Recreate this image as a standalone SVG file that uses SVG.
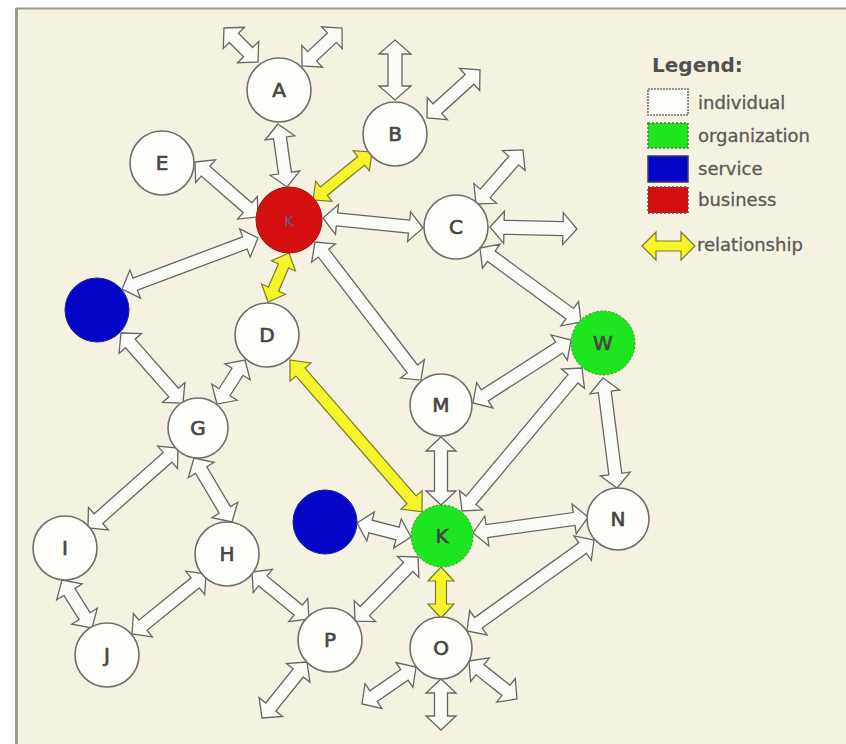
<svg xmlns="http://www.w3.org/2000/svg" width="846" height="744" viewBox="0 0 846 744">
<style>
.bg{fill:#f5f2e1}
.frame{stroke:#9a9a94;fill:none}
.w{fill:#fafaf6;stroke:#666;stroke-width:1.3;stroke-linejoin:miter}
.y{fill:#f4f42a;stroke:#7a7a30;stroke-width:1.2}
.ind{fill:#fdfdf9;stroke:#6e6e6e;stroke-width:1.6}
.org{fill:#1ee61e;stroke:#3a8a2a;stroke-width:1;stroke-dasharray:2 2}
.svc{fill:#0505c8;stroke:#2020a0;stroke-width:1}
.bus{fill:#d40f0f;stroke:#a01010;stroke-width:1}
.lbl{font-family:"DejaVu Sans",sans-serif;font-size:20px;fill:#474747;stroke:#474747;stroke-width:0.7;text-anchor:middle}
.leg{font-family:"DejaVu Sans",sans-serif;font-size:18px;fill:#5a5a5a;stroke:#5a5a5a;stroke-width:0.3}
.legh{font-family:"DejaVu Sans",sans-serif;font-size:20px;font-weight:bold;fill:#505050}
</style>
<rect class="bg" x="16" y="8" width="830" height="736"/>
<line class="frame" x1="16" y1="8.5" x2="846" y2="8.5" stroke-width="2"/>
<line class="frame" x1="16.5" y1="8" x2="16.5" y2="744" stroke-width="3"/>

<g id="connectors">
<path class="w" transform="translate(258 62) rotate(-135)" d="M0,0 L14,-15 L14,-6.5 L34.1,-6.5 L34.1,-15 L48.1,0 L34.1,15 L34.1,6.5 L14,6.5 L14,15 Z"/>
<path class="w" transform="translate(302 66) rotate(-43.5)" d="M0,0 L14,-15 L14,-6.5 L41.2,-6.5 L41.2,-15 L55.2,0 L41.2,15 L41.2,6.5 L14,6.5 L14,15 Z"/>
<path class="w" transform="translate(395 40) rotate(90)" d="M0,0 L14,-16 L14,-7 L46,-7 L46,-16 L60,0 L46,16 L46,7 L14,7 L14,16 Z"/>
<path class="w" transform="translate(427 118) rotate(-42.2)" d="M0,0 L14,-15 L14,-6.5 L57.5,-6.5 L57.5,-15 L71.5,0 L57.5,15 L57.5,6.5 L14,6.5 L14,15 Z"/>
<path class="w" transform="translate(278 124) rotate(81.9)" d="M0,0 L14,-15 L14,-6.5 L49.6,-6.5 L49.6,-15 L63.6,0 L49.6,15 L49.6,6.5 L14,6.5 L14,15 Z"/>
<path class="w" transform="translate(195 162) rotate(41.1)" d="M0,0 L14,-15 L14,-6.5 L69.6,-6.5 L69.6,-15 L83.6,0 L69.6,15 L69.6,6.5 L14,6.5 L14,15 Z"/>
<path class="y" transform="translate(313 200) rotate(-39.1)" d="M0,0 L14,-13 L14,-5.5 L62.1,-5.5 L62.1,-13 L76.1,0 L62.1,13 L62.1,5.5 L14,5.5 L14,13 Z"/>
<path class="w" transform="translate(323 218) rotate(5.7)" d="M0,0 L14,-15 L14,-6.5 L86.5,-6.5 L86.5,-15 L100.5,0 L86.5,15 L86.5,6.5 L14,6.5 L14,15 Z"/>
<path class="w" transform="translate(476 204) rotate(-49)" d="M0,0 L14,-15 L14,-6.5 L57.6,-6.5 L57.6,-15 L71.6,0 L57.6,15 L57.6,6.5 L14,6.5 L14,15 Z"/>
<path class="w" transform="translate(490 227) rotate(1.3)" d="M0,0 L14,-16 L14,-7 L73,-7 L73,-16 L87,0 L73,16 L73,7 L14,7 L14,16 Z"/>
<path class="w" transform="translate(480 248) rotate(36.2)" d="M0,0 L14,-15 L14,-6.5 L111.2,-6.5 L111.2,-15 L125.2,0 L111.2,15 L111.2,6.5 L14,6.5 L14,15 Z"/>
<path class="w" transform="translate(258 238) rotate(159.4)" d="M0,0 L14,-15 L14,-6.5 L131.2,-6.5 L131.2,-15 L145.2,0 L131.2,15 L131.2,6.5 L14,6.5 L14,15 Z"/>
<path class="y" transform="translate(289 253) rotate(113.2)" d="M0,0 L14,-13 L14,-5.5 L39.3,-5.5 L39.3,-13 L53.3,0 L39.3,13 L39.3,5.5 L14,5.5 L14,13 Z"/>
<path class="w" transform="translate(315 242) rotate(52.5)" d="M0,0 L14,-15 L14,-6.5 L160,-6.5 L160,-15 L174,0 L160,15 L160,6.5 L14,6.5 L14,15 Z"/>
<path class="w" transform="translate(121 333) rotate(48.5)" d="M0,0 L14,-15 L14,-6.5 L79.5,-6.5 L79.5,-15 L93.5,0 L79.5,15 L79.5,6.5 L14,6.5 L14,15 Z"/>
<path class="w" transform="translate(245 360) rotate(122.5)" d="M0,0 L14,-15 L14,-6.5 L38.2,-6.5 L38.2,-15 L52.2,0 L38.2,15 L38.2,6.5 L14,6.5 L14,15 Z"/>
<path class="y" transform="translate(290 360) rotate(49)" d="M0,0 L16,-14 L16,-6 L185.3,-6 L185.3,-14 L201.3,0 L185.3,14 L185.3,6 L16,6 L16,14 Z"/>
<path class="w" transform="translate(571 340) rotate(147.3)" d="M0,0 L14,-15 L14,-6.5 L102.5,-6.5 L102.5,-15 L116.5,0 L102.5,15 L102.5,6.5 L14,6.5 L14,15 Z"/>
<path class="w" transform="translate(582 368) rotate(130)" d="M0,0 L14,-15 L14,-6.5 L172.7,-6.5 L172.7,-15 L186.7,0 L172.7,15 L172.7,6.5 L14,6.5 L14,15 Z"/>
<path class="w" transform="translate(603 378) rotate(82.7)" d="M0,0 L14,-15 L14,-6.5 L96.9,-6.5 L96.9,-15 L110.9,0 L96.9,15 L96.9,6.5 L14,6.5 L14,15 Z"/>
<path class="w" transform="translate(441 437) rotate(90)" d="M0,0 L14,-15 L14,-6.5 L54,-6.5 L54,-15 L68,0 L54,15 L54,6.5 L14,6.5 L14,15 Z"/>
<path class="w" transform="translate(357 523) rotate(14.5)" d="M0,0 L14,-15 L14,-6.5 L41.8,-6.5 L41.8,-15 L55.8,0 L41.8,15 L41.8,6.5 L14,6.5 L14,15 Z"/>
<path class="w" transform="translate(473 533) rotate(-7.9)" d="M0,0 L14,-15 L14,-6.5 L102.1,-6.5 L102.1,-15 L116.1,0 L102.1,15 L102.1,6.5 L14,6.5 L14,15 Z"/>
<path class="w" transform="translate(418 557) rotate(134.5)" d="M0,0 L14,-15 L14,-6.5 L75.8,-6.5 L75.8,-15 L89.8,0 L75.8,15 L75.8,6.5 L14,6.5 L14,15 Z"/>
<path class="y" transform="translate(441 567) rotate(90)" d="M0,0 L14,-13 L14,-5.5 L37,-5.5 L37,-13 L51,0 L37,13 L37,5.5 L14,5.5 L14,13 Z"/>
<path class="w" transform="translate(594 540) rotate(144.4)" d="M0,0 L14,-15 L14,-6.5 L142.2,-6.5 L142.2,-15 L156.2,0 L142.2,15 L142.2,6.5 L14,6.5 L14,15 Z"/>
<path class="w" transform="translate(416 667) rotate(145.6)" d="M0,0 L14,-15 L14,-6.5 L51.5,-6.5 L51.5,-15 L65.5,0 L51.5,15 L51.5,6.5 L14,6.5 L14,15 Z"/>
<path class="w" transform="translate(441 679) rotate(90)" d="M0,0 L14,-15 L14,-6.5 L37,-6.5 L37,-15 L51,0 L37,15 L37,6.5 L14,6.5 L14,15 Z"/>
<path class="w" transform="translate(469 661) rotate(38.4)" d="M0,0 L14,-15 L14,-6.5 L47.2,-6.5 L47.2,-15 L61.2,0 L47.2,15 L47.2,6.5 L14,6.5 L14,15 Z"/>
<path class="w" transform="translate(307 662) rotate(128.8)" d="M0,0 L14,-15 L14,-6.5 L57.8,-6.5 L57.8,-15 L71.8,0 L57.8,15 L57.8,6.5 L14,6.5 L14,15 Z"/>
<path class="w" transform="translate(178 448) rotate(138.4)" d="M0,0 L14,-15 L14,-6.5 L106.4,-6.5 L106.4,-15 L120.4,0 L106.4,15 L106.4,6.5 L14,6.5 L14,15 Z"/>
<path class="w" transform="translate(194 458) rotate(59.3)" d="M0,0 L14,-15 L14,-6.5 L60.4,-6.5 L60.4,-15 L74.4,0 L60.4,15 L60.4,6.5 L14,6.5 L14,15 Z"/>
<path class="w" transform="translate(62 580) rotate(58)" d="M0,0 L14,-15 L14,-6.5 L42.6,-6.5 L42.6,-15 L56.6,0 L42.6,15 L42.6,6.5 L14,6.5 L14,15 Z"/>
<path class="w" transform="translate(132 634) rotate(-39)" d="M0,0 L14,-15 L14,-6.5 L81.3,-6.5 L81.3,-15 L95.3,0 L81.3,15 L81.3,6.5 L14,6.5 L14,15 Z"/>
<path class="w" transform="translate(252 572) rotate(39.5)" d="M0,0 L14,-15 L14,-6.5 L59.9,-6.5 L59.9,-15 L73.9,0 L59.9,15 L59.9,6.5 L14,6.5 L14,15 Z"/>
</g>

<g id="node-A"><circle class="ind" cx="279" cy="90" r="32"/><text class="lbl" x="279" y="97">A</text></g>
<g id="node-B"><circle class="ind" cx="395" cy="134" r="32"/><text class="lbl" x="395" y="141">B</text></g>
<g id="node-E"><circle class="ind" cx="162" cy="163" r="32"/><text class="lbl" x="162" y="170">E</text></g>
<g id="node-business"><circle class="bus" cx="289" cy="220" r="33"/><text class="lbl" x="289" y="226" style="font-size:14px;fill:#6a5a7a;stroke:#6a5a7a;stroke-width:0.4">K</text></g>
<g id="node-C"><circle class="ind" cx="456" cy="227" r="32"/><text class="lbl" x="456" y="234">C</text></g>
<g id="node-W"><circle class="org" cx="603" cy="343" r="32"/><text class="lbl" x="603" y="350">W</text></g>
<g id="node-service1"><circle class="svc" cx="97" cy="310" r="32"/></g>
<g id="node-D"><circle class="ind" cx="267" cy="335" r="32"/><text class="lbl" x="267" y="342">D</text></g>
<g id="node-G"><circle class="ind" cx="198" cy="428" r="30"/><text class="lbl" x="198" y="435">G</text></g>
<g id="node-M"><circle class="ind" cx="441" cy="405" r="31"/><text class="lbl" x="441" y="412">M</text></g>
<g id="node-K"><circle class="org" cx="442" cy="536" r="31"/><text class="lbl" x="442" y="543">K</text></g>
<g id="node-service2"><circle class="svc" cx="325" cy="522" r="32"/></g>
<g id="node-N"><circle class="ind" cx="618" cy="519" r="31"/><text class="lbl" x="618" y="526">N</text></g>
<g id="node-P"><circle class="ind" cx="330" cy="640" r="32"/><text class="lbl" x="330" y="647">P</text></g>
<g id="node-O"><circle class="ind" cx="441" cy="648" r="31"/><text class="lbl" x="441" y="655">O</text></g>
<g id="node-I"><circle class="ind" cx="65" cy="548" r="32"/><text class="lbl" x="65" y="555">I</text></g>
<g id="node-H"><circle class="ind" cx="227" cy="554" r="32"/><text class="lbl" x="227" y="561">H</text></g>
<g id="node-J"><circle class="ind" cx="107" cy="655" r="32"/><text class="lbl" x="107" y="662">J</text></g>

<g id="legend">
<text class="legh" x="652" y="72">Legend:</text>
<rect class="ind" x="648" y="89" width="40" height="26" style="stroke-dasharray:2 1"/>
<text class="leg" x="698" y="109">individual</text>
<rect x="648" y="123" width="40" height="25" fill="#1ee61e" stroke="#5a6a4a" stroke-width="1.5" stroke-dasharray="2 2"/>
<text class="leg" x="698" y="142">organization</text>
<rect x="648" y="156" width="40" height="26" fill="#0505c8" stroke="#3a3a6a" stroke-width="1.5"/>
<text class="leg" x="698" y="175">service</text>
<rect x="648" y="187" width="40" height="26" fill="#d40f0f" stroke="#6a4a4a" stroke-width="1.5" stroke-dasharray="2 2"/>
<text class="leg" x="698" y="206">business</text>
<path class="y" transform="translate(642 246)" d="M0,0 L14,-14 L14,-5 L39,-5 L39,-14 L53,0 L39,14 L39,5 L14,5 L14,14 Z"/>
<text class="leg" x="697" y="251">relationship</text>
</g>
</svg>
